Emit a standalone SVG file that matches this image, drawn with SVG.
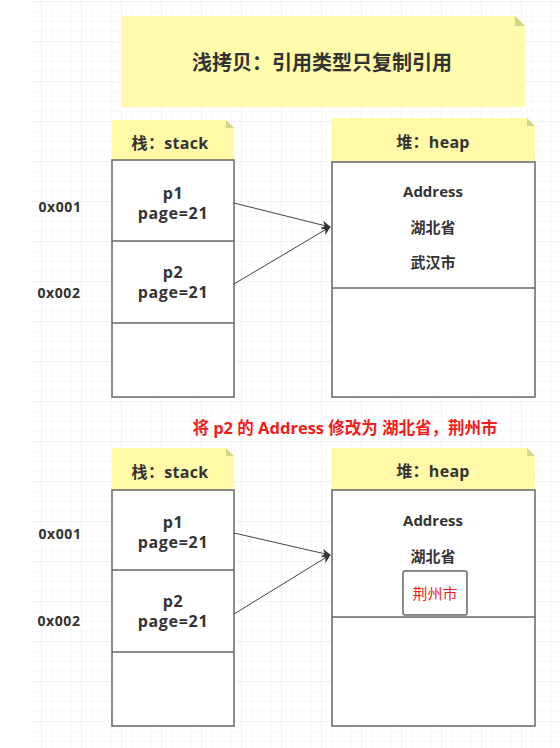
<svg xmlns="http://www.w3.org/2000/svg" width="560" height="748" viewBox="0 0 560 748">
<style>
  .t{font-family:"Open Sans","Noto Sans CJK SC",sans-serif;font-weight:bold;fill:#333;text-anchor:middle;dominant-baseline:central}
  .lbl{font-size:14px;letter-spacing:0.6px}
  .var{font-size:16px;letter-spacing:0.7px}
  .hd{font-size:16px;letter-spacing:0.3px}
  .addr{font-size:15px}
  .box{fill:#fff;stroke:#666;stroke-width:1.5}
  .hdr{fill:#fff9a8}
  .fold{fill:#d8d48a}
  .conn{stroke:#444;stroke-width:1;fill:none;marker-end:url(#ah)}
</style>
<defs>
  <pattern id="minor" width="10" height="10" patternUnits="userSpaceOnUse">
    <path d="M10 0V10H0" fill="none" stroke="#f3f3f3" stroke-width="1"/>
  </pattern>
  <pattern id="grid" width="40" height="40" patternUnits="userSpaceOnUse" x="2" y="2">
    <rect width="40" height="40" fill="url(#minor)"/>
    <path d="M40 0V40H0" fill="none" stroke="#e9e9e9" stroke-width="1"/>
  </pattern>
  <marker id="ah" viewBox="0 0 10 10" refX="9" refY="5" markerWidth="9" markerHeight="9" markerUnits="userSpaceOnUse" orient="auto">
    <path d="M0 0L10 5L0 10L3 5Z" fill="#333"/>
  </marker>
</defs>
<rect width="560" height="748" fill="#fff"/>
<rect x="32" y="0" width="528" height="748" fill="url(#grid)"/>

<g id="title">
  <path d="M121 16H515L525 26V107H121Z" fill="#fffbaa"/>
  <path d="M515 16L525 26H515Z" class="fold"/>
  <text class="t" x="322" y="62" font-size="20">浅拷贝：引用类型只复制引用</text>
</g>

<g id="stack1">
  <path d="M112 120H226L234 128V160H112Z" class="hdr"/>
  <path d="M226 120L234 128H226Z" class="fold"/>
  <text class="t hd" x="170" y="143">栈：stack</text>
  <rect x="112" y="160" width="122" height="237" class="box"/>
  <line x1="112" y1="241" x2="234" y2="241" stroke="#666" stroke-width="1.5"/>
  <line x1="112" y1="323" x2="234" y2="323" stroke="#666" stroke-width="1.5"/>
  <text class="t var" x="173" y="193">p1</text>
  <text class="t var" x="173" y="213">page=21</text>
  <text class="t var" x="173" y="272">p2</text>
  <text class="t var" x="173" y="292">page=21</text>
</g>
<g id="addr1">
  <text class="t lbl" x="60" y="206">0x001</text>
  <text class="t lbl" x="59" y="292">0x002</text>
</g>

<g id="heap1">
  <path d="M332 118H527L535 126V161H332Z" class="hdr"/>
  <path d="M527 118L535 126H527Z" class="fold"/>
  <text class="t hd" x="433" y="142">堆：heap</text>
  <rect x="332" y="162" width="203" height="235" class="box"/>
  <line x1="332" y1="288" x2="535" y2="288" stroke="#666" stroke-width="1.5"/>
  <text class="t addr" x="433" y="191">Address</text>
  <text class="t addr" x="433" y="227">湖北省</text>
  <text class="t addr" x="433" y="262">武汉市</text>
</g>

<g id="note">
  <text class="t" x="345" y="427" font-size="16.5" style="fill:#f21c1c">将 p2 的 Address 修改为 湖北省，荆州市</text>
</g>

<g id="stack2">
  <path d="M112 448H226L234 456V490H112Z" class="hdr"/>
  <path d="M226 448L234 456H226Z" class="fold"/>
  <text class="t hd" x="170" y="472">栈：stack</text>
  <rect x="112" y="490" width="122" height="236" class="box"/>
  <line x1="112" y1="570" x2="234" y2="570" stroke="#666" stroke-width="1.5"/>
  <line x1="112" y1="652" x2="234" y2="652" stroke="#666" stroke-width="1.5"/>
  <text class="t var" x="173" y="522">p1</text>
  <text class="t var" x="173" y="542">page=21</text>
  <text class="t var" x="173" y="601">p2</text>
  <text class="t var" x="173" y="621">page=21</text>
</g>
<g id="addr2">
  <text class="t lbl" x="60" y="533">0x001</text>
  <text class="t lbl" x="59" y="620">0x002</text>
</g>

<g id="heap2">
  <path d="M332 448H527L535 456V490H332Z" class="hdr"/>
  <path d="M527 448L535 456H527Z" class="fold"/>
  <text class="t hd" x="433" y="471">堆：heap</text>
  <rect x="332" y="490" width="203" height="236" class="box"/>
  <line x1="332" y1="617" x2="535" y2="617" stroke="#666" stroke-width="1.5"/>
  <text class="t addr" x="433" y="520">Address</text>
  <text class="t addr" x="433" y="556">湖北省</text>
  <rect x="403" y="571" width="64" height="44" rx="2" class="box"/>
  <text class="t addr" x="435" y="593" style="fill:#f21c1c;font-weight:normal">荆州市</text>
</g>

<g id="connectors">
  <line x1="234" y1="203" x2="330" y2="227" class="conn"/>
  <line x1="234" y1="284" x2="330" y2="227" class="conn"/>
  <line x1="234" y1="533" x2="330" y2="555" class="conn"/>
  <line x1="234" y1="614" x2="330" y2="555" class="conn"/>
</g>
</svg>
